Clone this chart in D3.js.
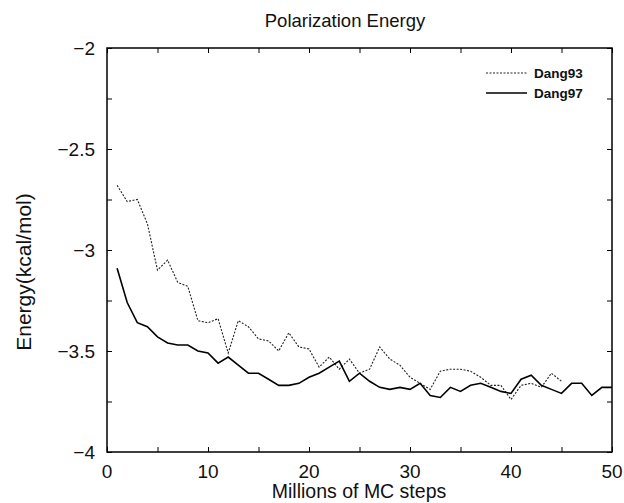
<!DOCTYPE html>
<html>
<head>
<meta charset="utf-8">
<script src="https://cdn.jsdelivr.net/npm/d3@7"></script>
<style>
  body { margin: 0; background: #fff; }
  text { font-family: "Liberation Sans", Arial, sans-serif; fill: #111; }
</style>
</head>
<body>
<svg id="chart" width="624" height="503"></svg>
<script>
// millions of MC steps
var steps93 = d3.range(1, 46);
var steps97 = d3.range(1, 51);

var dang93 = [-2.68, -2.76, -2.75, -2.87, -3.10, -3.05, -3.16, -3.18, -3.35, -3.36,
              -3.34, -3.51, -3.35, -3.38, -3.44, -3.45, -3.50, -3.41, -3.48, -3.49,
              -3.58, -3.53, -3.59, -3.54, -3.61, -3.59, -3.48, -3.54, -3.57, -3.63,
              -3.66, -3.69, -3.60, -3.59, -3.59, -3.60, -3.63, -3.67, -3.67, -3.74,
              -3.67, -3.66, -3.68, -3.61, -3.65];

var dang97 = [-3.09, -3.26, -3.36, -3.38, -3.43, -3.46, -3.47, -3.47, -3.50, -3.51,
              -3.56, -3.53, -3.57, -3.61, -3.61, -3.64, -3.67, -3.67, -3.66, -3.63,
              -3.61, -3.58, -3.55, -3.65, -3.61, -3.65, -3.68, -3.69, -3.68, -3.69,
              -3.66, -3.72, -3.73, -3.68, -3.70, -3.67, -3.66, -3.68, -3.70, -3.71,
              -3.64, -3.62, -3.67, -3.69, -3.71, -3.66, -3.66, -3.72, -3.68, -3.68];

var xTicks = [0, 10, 20, 30, 40, 50];
var yTicks = [-4, -3.5, -3, -2.5, -2];

var svg = d3.select("#chart");
var plotLeft = 107, plotRight = 612, plotTop = 48, plotBottom = 452;

var x = d3.scaleLinear().domain([0, 50]).range([plotLeft, plotRight]);
var y = d3.scaleLinear().domain([-4, -2]).range([plotBottom, plotTop]);

// frame
svg.append("rect")
    .attr("x", plotLeft).attr("y", plotTop)
    .attr("width", plotRight - plotLeft).attr("height", plotBottom - plotTop)
    .attr("fill", "none").attr("stroke", "#000").attr("stroke-width", 1.5);

// inward ticks, every 5 on x and every 0.25 on y
var xMinor = d3.range(0, 51, 5);
var yMinor = d3.range(-4, -1.99, 0.25);

svg.append("g").attr("transform", "translate(0," + plotBottom + ")")
    .call(d3.axisTop(x).tickValues(xMinor).tickSize(5).tickFormat(""))
    .call(g => g.select(".domain").remove());
svg.append("g").attr("transform", "translate(0," + plotTop + ")")
    .call(d3.axisBottom(x).tickValues(xMinor).tickSize(5).tickFormat(""))
    .call(g => g.select(".domain").remove());
svg.append("g").attr("transform", "translate(" + plotLeft + ",0)")
    .call(d3.axisRight(y).tickValues(yMinor).tickSize(5).tickFormat(""))
    .call(g => g.select(".domain").remove());
svg.append("g").attr("transform", "translate(" + plotRight + ",0)")
    .call(d3.axisLeft(y).tickValues(yMinor).tickSize(5).tickFormat(""))
    .call(g => g.select(".domain").remove());

// tick labels
svg.append("g").selectAll("text")
    .data(xTicks).enter().append("text")
    .attr("x", d => x(d))
    .attr("y", plotBottom + 26)
    .attr("text-anchor", "middle")
    .style("font-size", "19px")
    .text(d => d);

svg.append("g").selectAll("text")
    .data(yTicks).enter().append("text")
    .attr("x", plotLeft - 12)
    .attr("y", d => y(d))
    .attr("dy", "0.35em")
    .attr("text-anchor", "end")
    .style("font-size", "19px")
    .text(d => String(d).replace("-", "\u2212"));

// lines
var line = d3.line()
    .x(d => x(d[0]))
    .y(d => y(d[1]));

svg.append("path")
    .datum(steps93.map((s, i) => [s, dang93[i]]))
    .attr("d", line)
    .attr("fill", "none")
    .attr("stroke", "#222")
    .attr("stroke-width", 1.1)
    .attr("stroke-dasharray", "2,1.5");

svg.append("path")
    .datum(steps97.map((s, i) => [s, dang97[i]]))
    .attr("d", line)
    .attr("fill", "none")
    .attr("stroke", "#000")
    .attr("stroke-width", 1.6);

// legend
var legend = svg.append("g");
legend.append("line")
    .attr("x1", 486).attr("x2", 527).attr("y1", 73).attr("y2", 73)
    .attr("stroke", "#222").attr("stroke-width", 1.1).attr("stroke-dasharray", "2,1.5");
legend.append("line")
    .attr("x1", 486).attr("x2", 527).attr("y1", 93).attr("y2", 93)
    .attr("stroke", "#000").attr("stroke-width", 1.6);
legend.append("text").attr("x", 534).attr("y", 73).attr("dy", "0.35em")
    .style("font-size", "13.5px").style("font-weight", "bold").text("Dang93");
legend.append("text").attr("x", 534).attr("y", 93).attr("dy", "0.35em")
    .style("font-size", "13.5px").style("font-weight", "bold").text("Dang97");

// titles
svg.append("text")
    .attr("x", 345).attr("y", 27)
    .attr("text-anchor", "middle")
    .style("font-size", "18.5px")
    .text("Polarization Energy");

svg.append("text")
    .attr("x", 359).attr("y", 498)
    .attr("text-anchor", "middle")
    .style("font-size", "19.5px")
    .text("Millions of MC steps");

svg.append("text")
    .attr("transform", "translate(31,272) rotate(-90)")
    .attr("text-anchor", "middle")
    .style("font-size", "21px")
    .text("Energy(kcal/mol)");
</script>
</body>
</html>
